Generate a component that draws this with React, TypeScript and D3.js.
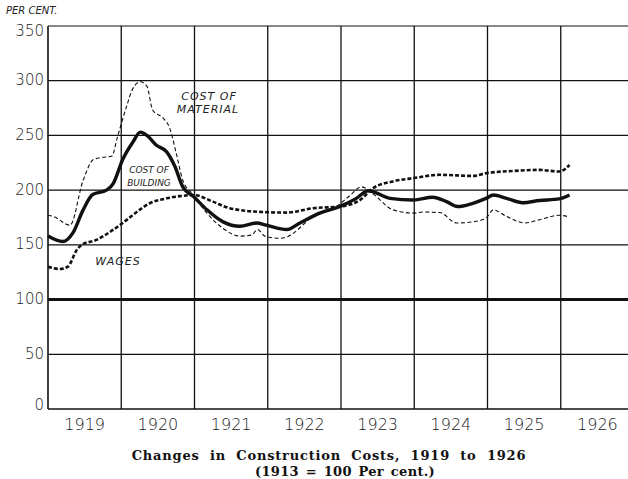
import React from "react";
import * as d3 from "d3";

// values, [year, per cent of 1913]
const material: [number, number][] = [
  [1919.0, 177], [1919.07, 176], [1919.3, 168], [1919.48, 209], [1919.62, 228],
  [1919.75, 230], [1919.87, 231], [1919.95, 249], [1920.07, 276], [1920.16, 293],
  [1920.26, 299], [1920.35, 295], [1920.43, 273], [1920.57, 266], [1920.66, 257],
  [1920.76, 231], [1920.84, 209], [1920.98, 196], [1921.17, 179], [1921.39, 165],
  [1921.62, 158], [1921.78, 159], [1921.86, 164], [1921.96, 158], [1922.17, 156],
  [1922.27, 157.5], [1922.62, 176], [1922.94, 185], [1923.12, 195], [1923.28, 203],
  [1923.43, 197], [1923.71, 182], [1923.99, 179], [1924.12, 180], [1924.35, 179.5],
  [1924.58, 170], [1924.8, 171], [1924.98, 174.5], [1925.08, 182], [1925.26, 176],
  [1925.51, 170], [1925.71, 173], [1925.98, 177], [1926.12, 175.5],
];

const building: [number, number][] = [
  [1919.0, 158], [1919.2, 153], [1919.34, 161], [1919.48, 182], [1919.61, 196],
  [1919.8, 200], [1919.89, 206], [1920.02, 228], [1920.16, 244], [1920.26, 253],
  [1920.35, 250], [1920.48, 241], [1920.62, 235], [1920.73, 222], [1920.84, 203],
  [1920.99, 194], [1921.17, 182], [1921.39, 171], [1921.62, 167], [1921.85, 170],
  [1921.98, 168], [1922.26, 164], [1922.44, 170], [1922.71, 179], [1922.98, 185],
  [1923.21, 192.5], [1923.37, 199.5], [1923.67, 192.5], [1923.99, 191], [1924.25, 193.5],
  [1924.44, 189.5], [1924.59, 185], [1924.8, 188], [1924.98, 192.5], [1925.08, 195.5],
  [1925.26, 192.5], [1925.48, 188.5], [1925.71, 190.5], [1925.98, 192], [1926.12, 195.5],
];

const wages: [number, number][] = [
  [1919.0, 130], [1919.16, 128], [1919.27, 130], [1919.39, 145], [1919.46, 150],
  [1919.66, 154.5], [1919.85, 162], [1920.02, 170], [1920.21, 180], [1920.39, 188],
  [1920.62, 192.5], [1920.8, 194.5], [1920.99, 195.5], [1921.25, 189.5], [1921.48, 183.5],
  [1921.93, 180], [1922.26, 179.5], [1922.62, 183.5], [1922.98, 185], [1923.26, 191],
  [1923.43, 201.5], [1923.71, 208], [1923.99, 211], [1924.35, 214], [1924.8, 213],
  [1924.98, 215.5], [1925.34, 217.5], [1925.71, 218.5], [1925.98, 217], [1926.12, 223],
];

const yTicks = [0, 50, 100, 150, 200, 250, 300, 350];
const years = [1919, 1920, 1921, 1922, 1923, 1924, 1925, 1926];

const W = 628;
const H = 479;

const App = () => {
  const x = d3.scaleLinear().domain([1919, 1927]).range([48, 634]);
  const y = d3.scaleLinear().domain([0, 350]).range([409, 26]);

  const line = d3
    .line<[number, number]>()
    .x((d) => x(d[0]))
    .y((d) => y(d[1]))
    .curve(d3.curveMonotoneX);

  const handFont = "'DejaVu Sans', sans-serif";

  return (
    <svg
      width={W}
      height={H}
      style={{ position: "absolute", left: 0, top: 0, background: "#fff" }}
    >
      {/* horizontal grid */}
      {yTicks.map((v) => (
        <line
          key={"h" + v}
          x1={x(1919)}
          x2={W}
          y1={y(v)}
          y2={y(v)}
          stroke="#111"
          strokeWidth={v === 100 ? 3 : v === 0 ? 1.6 : 1.2}
        />
      ))}
      {/* vertical grid at year boundaries */}
      {years.map((yr) => (
        <line
          key={"v" + yr}
          x1={x(yr)}
          x2={x(yr)}
          y1={y(350)}
          y2={y(0)}
          stroke="#111"
          strokeWidth={yr === 1919 ? 1.6 : 1.3}
        />
      ))}

      {/* y labels */}
      {yTicks.map((v) => (
        <text
          key={"t" + v}
          x={44}
          y={y(v) + (v === 350 ? 5 : v === 0 ? -4 : 0)}
          textAnchor="end"
          dominantBaseline="middle"
          fontFamily={handFont}
          fontWeight={300}
          fontSize={15}
          fill="#222"
        >
          {v}
        </text>
      ))}
      <text
        x={6}
        y={14}
        fontFamily={handFont}
        fontStyle="italic"
        fontSize={10}
        fill="#222"
      >
        PER CENT.
      </text>

      {/* year labels */}
      {years.map((yr) => (
        <text
          key={"y" + yr}
          x={x(yr + 0.5)}
          y={430}
          textAnchor="middle"
          fontFamily={handFont}
          fontWeight={300}
          fontSize={16}
          fill="#222"
        >
          {yr}
        </text>
      ))}

      {/* series */}
      <path
        d={line(material) ?? ""}
        fill="none"
        stroke="#111"
        strokeWidth={1.1}
        strokeDasharray="4 2.5"
      />
      <path
        d={line(wages) ?? ""}
        fill="none"
        stroke="#111"
        strokeWidth={2.6}
        strokeDasharray="4 2"
      />
      <path
        d={line(building) ?? ""}
        fill="none"
        stroke="#111"
        strokeWidth={3.4}
      />

      {/* curve labels */}
      <g
        fontFamily={handFont}
        fontStyle="italic"
        fontWeight={300}
        fill="#222"
        letterSpacing={1}
      >
        <text x={209} y={100} fontSize={11} textAnchor="middle">
          COST OF
        </text>
        <text x={208} y={113} fontSize={11} textAnchor="middle">
          MATERIAL
        </text>
        <text
          x={149}
          y={173}
          fontSize={9}
          textAnchor="middle"
          stroke="#fff"
          strokeWidth={3}
          paintOrder="stroke"
          letterSpacing={0}
        >
          COST OF
        </text>
        <text
          x={149}
          y={186}
          fontSize={9}
          textAnchor="middle"
          stroke="#fff"
          strokeWidth={3}
          paintOrder="stroke"
          letterSpacing={0}
        >
          BUILDING
        </text>
        <text x={118} y={265} fontSize={11} textAnchor="middle">
          WAGES
        </text>
      </g>

      {/* title */}
      <text
        x={329}
        y={460}
        textAnchor="middle"
        fontFamily="'DejaVu Serif', serif"
        fontWeight="bold"
        fontSize={13}
        letterSpacing={0.8}
        wordSpacing={5}
        fill="#111"
      >
        Changes in Construction Costs, 1919 to 1926
      </text>
      <text
        x={345}
        y={476}
        textAnchor="middle"
        fontFamily="'DejaVu Serif', serif"
        fontWeight="bold"
        fontSize={13}
        letterSpacing={0.3}
        wordSpacing={2}
        fill="#111"
      >
        (1913 = 100 Per cent.)
      </text>
    </svg>
  );
};

export default App;
